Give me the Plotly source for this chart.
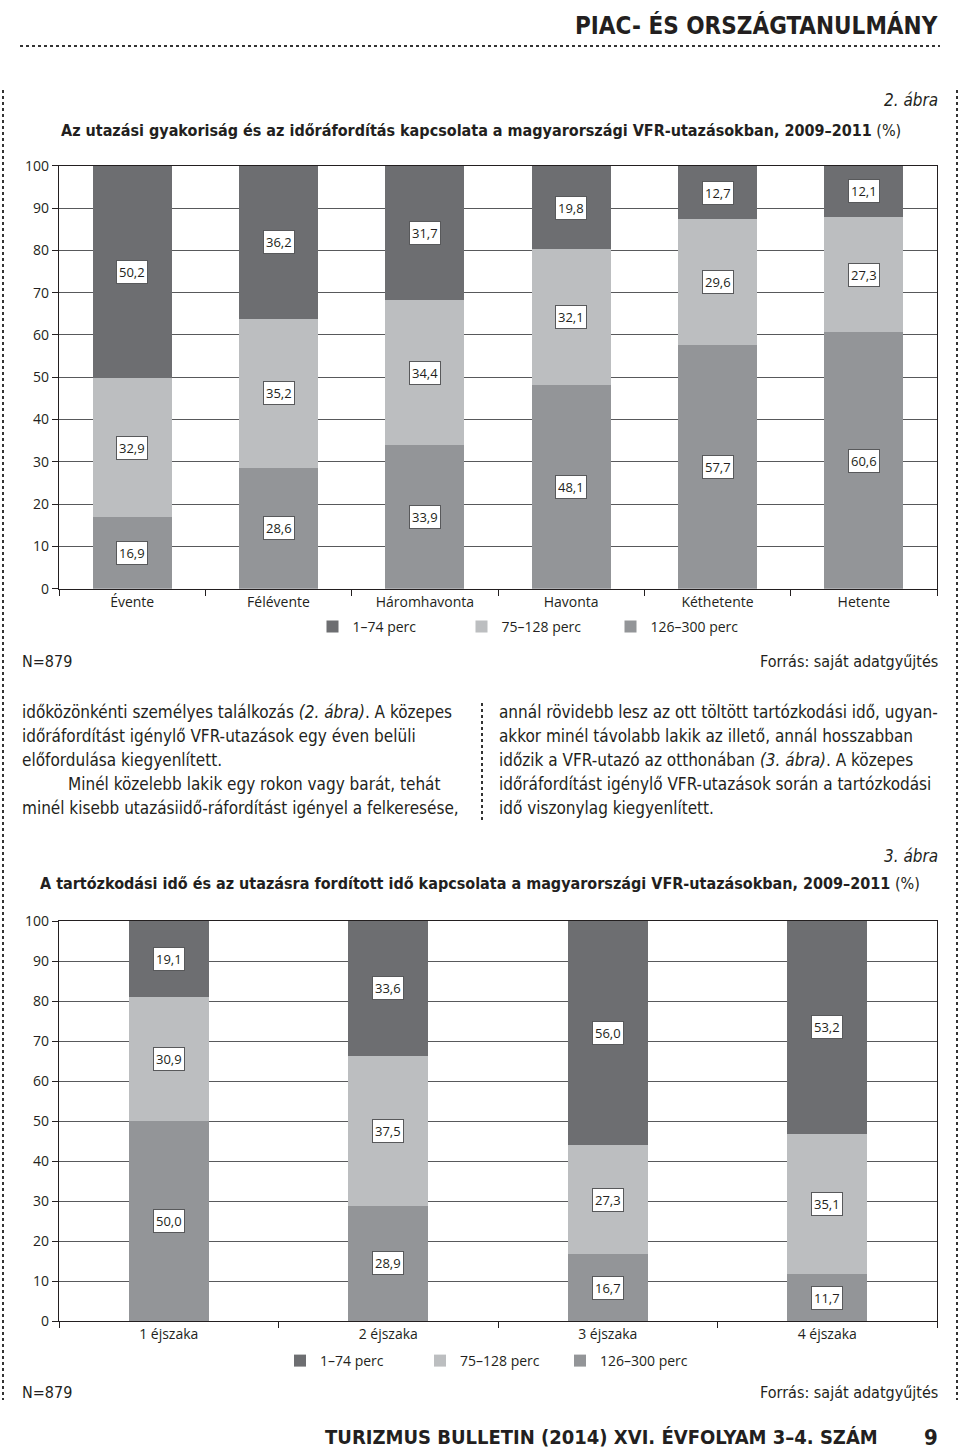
import plotly.graph_objects as go

# ---------------- data ----------------
freq_categories = ["Évente", "Félévente", "Háromhavonta", "Havonta", "Kéthetente", "Hetente"]
freq_1_74 = [50.2, 36.2, 31.7, 19.8, 12.7, 12.1]
freq_75_128 = [32.9, 35.2, 34.4, 32.1, 29.6, 27.3]
freq_126_300 = [16.9, 28.6, 33.9, 48.1, 57.7, 60.6]

stay_categories = ["1 éjszaka", "2 éjszaka", "3 éjszaka", "4 éjszaka"]
stay_1_74 = [19.1, 33.6, 56.0, 53.2]
stay_75_128 = [30.9, 37.5, 27.3, 35.1]
stay_126_300 = [50.0, 28.9, 16.7, 11.7]

series_names = ["1–74 perc", "75–128 perc", "126–300 perc"]
y_tick_values = [0, 10, 20, 30, 40, 50, 60, 70, 80, 90, 100]

# ---------------- style ----------------
W, H = 960, 1456
C_DARK, C_LIGHT, C_MED = "#6d6e71", "#bcbec0", "#939598"
TXT = "#231f20"
CHART_FONT = "Open Sans, Noto Sans, sans-serif"
COND_FONT = "DejaVu Sans Condensed, Liberation Sans Narrow, Roboto, sans-serif"


def px_x(x):
    return x / W


def px_y(y):
    return 1 - y / H


def fmt(v):
    return f"{v:.1f}".replace(".", ",")


fig = go.Figure()


def add_stack(cats, bottom, middle, top, xa, ya, legend, width):
    # stacking order: bottom first
    for vals, name, col in ((bottom, series_names[2], C_MED),
                            (middle, series_names[1], C_LIGHT),
                            (top, series_names[0], C_DARK)):
        fig.add_trace(go.Bar(
            x=cats, y=vals, name=name, marker=dict(color=col, line=dict(width=0)),
            width=[width] * len(cats), xaxis=xa, yaxis=ya, legend=legend,
            hoverinfo="skip",
        ))
    annots = []
    for i, c in enumerate(cats):
        base = 0
        for vals in (bottom, middle, top):
            v = vals[i]
            annots.append(dict(
                x=c, y=base + v / 2, xref=xa, yref=ya,
                text=fmt(v), showarrow=False,
                font=dict(family=CHART_FONT, size=13, color=TXT),
                bgcolor="white", bordercolor="#58595b", borderwidth=1, borderpad=2,
            ))
            base += v
    return annots


annotations = []
annotations += add_stack(freq_categories, freq_126_300, freq_75_128, freq_1_74, "x", "y", "legend", 0.54)
annotations += add_stack(stay_categories, stay_126_300, stay_75_128, stay_1_74, "x2", "y2", "legend2", 0.363)

axis_common = dict(
    showline=True, linecolor=TXT, linewidth=1.2, mirror=True, automargin=False,
    tickfont=dict(family=CHART_FONT, size=14, color=TXT),
)

x_dom = [px_x(59), px_x(937)]
fig.update_layout(
    width=W, height=H,
    margin=dict(l=0, r=0, t=0, b=0, pad=0, autoexpand=False),
    paper_bgcolor="white", plot_bgcolor="white",
    barmode="stack",
    showlegend=True,
    xaxis=dict(domain=x_dom, anchor="y", type="category", tickson="boundaries",
               ticks="outside", ticklen=6, tickcolor=TXT, showgrid=False, **axis_common),
    yaxis=dict(domain=[px_y(588.7), px_y(165.7)], anchor="x", range=[0, 100],
               tickvals=y_tick_values, ticks="outside", ticklen=6, tickcolor=TXT,
               showgrid=True, gridcolor="#58595b", gridwidth=1, zeroline=False, **axis_common),
    xaxis2=dict(domain=x_dom, anchor="y2", type="category", tickson="boundaries",
                ticks="outside", ticklen=6, tickcolor=TXT, showgrid=False, **axis_common),
    yaxis2=dict(domain=[px_y(1321.3), px_y(921)], anchor="x2", range=[0, 100],
                tickvals=y_tick_values, ticks="outside", ticklen=6, tickcolor=TXT,
                showgrid=True, gridcolor="#58595b", gridwidth=1, zeroline=False, **axis_common),
    legend=dict(orientation="h", x=px_x(536), xanchor="center", y=px_y(627), yanchor="middle",
                traceorder="reversed", font=dict(family=CHART_FONT, size=14, color=TXT),
                entrywidth=104, entrywidthmode="pixels", bgcolor="rgba(0,0,0,0)"),
    legend2=dict(orientation="h", x=px_x(490), xanchor="center", y=px_y(1361), yanchor="middle",
                 traceorder="reversed", font=dict(family=CHART_FONT, size=14, color=TXT),
                 entrywidth=95, entrywidthmode="pixels", bgcolor="rgba(0,0,0,0)"),
)


def txt(x, y, text, size=16, anchor="left", family=COND_FONT, color=TXT):
    return dict(x=px_x(x), y=px_y(y), xref="paper", yref="paper", text=text,
                showarrow=False, xanchor=anchor, yanchor="middle",
                font=dict(family=family, size=size, color=color))


# header / footer
annotations.append(txt(940, 25, "<b>PIAC- ÉS ORSZÁGTANULMÁNY</b>", size=24, anchor="right"))
annotations.append(txt(880, 1437, "<b>TURIZMUS BULLETIN (2014) XVI. ÉVFOLYAM 3–4. SZÁM</b>", size=20, anchor="right"))
annotations.append(txt(940, 1437, "<b>9</b>", size=22, anchor="right"))

# figure titles
annotations.append(txt(940, 100, "<i>2. ábra</i>", size=17, anchor="right"))
annotations.append(txt(481, 130, "<b>Az utazási gyakoriság és az időráfordítás kapcsolata a magyarországi VFR-utazásokban, 2009–2011</b> (%)", size=16, anchor="center"))
annotations.append(txt(940, 856, "<i>3. ábra</i>", size=17, anchor="right"))
annotations.append(txt(480, 884, "<b>A tartózkodási idő és az utazásra fordított idő kapcsolata a magyarországi VFR-utazásokban, 2009–2011</b> (%)", size=16, anchor="center"))

# notes
for yy in (662, 1392):
    annotations.append(txt(20, yy, "N=879", size=16))
    annotations.append(txt(940, yy, "Forrás: saját adatgyűjtés", size=16, anchor="right"))

# body text
left_lines = [
    "időközönkénti személyes találkozás <i>(2. ábra)</i>. A közepes",
    "időráfordítást igénylő VFR-utazások egy éven belüli",
    "előfordulása kiegyenlített.",
    "Minél közelebb lakik egy rokon vagy barát, tehát",
    "minél kisebb utazásiidő-ráfordítást igényel a felkeresése,",
]
right_lines = [
    "annál rövidebb lesz az ott töltött tartózkodási idő, ugyan-",
    "akkor minél távolabb lakik az illető, annál hosszabban",
    "időzik a VFR-utazó az otthonában <i>(3. ábra)</i>. A közepes",
    "időráfordítást igénylő VFR-utazások során a tartózkodási",
    "idő viszonylag kiegyenlített.",
]
for i, line in enumerate(left_lines):
    annotations.append(txt(66 if i == 3 else 20, 712 + 24 * i, line, size=17))
for i, line in enumerate(right_lines):
    annotations.append(txt(497, 712 + 24 * i, line, size=17))

fig.update_layout(annotations=annotations)

# dotted rules
dot = dict(color="#333333", width=2, dash="dot")
shapes = [
    dict(type="line", xref="paper", yref="paper", x0=px_x(20), x1=px_x(940), y0=px_y(46), y1=px_y(46), line=dot),
    dict(type="line", xref="paper", yref="paper", x0=px_x(3), x1=px_x(3), y0=px_y(90), y1=px_y(1400), line=dot),
    dict(type="line", xref="paper", yref="paper", x0=px_x(957), x1=px_x(957), y0=px_y(90), y1=px_y(1400), line=dot),
    dict(type="line", xref="paper", yref="paper", x0=px_x(482), x1=px_x(482), y0=px_y(703), y1=px_y(820), line=dot),
]
fig.update_layout(shapes=shapes)

fig.write_html("out.html", config={"displayModeBar": False},
               post_script="document.body.style.margin='0';")
